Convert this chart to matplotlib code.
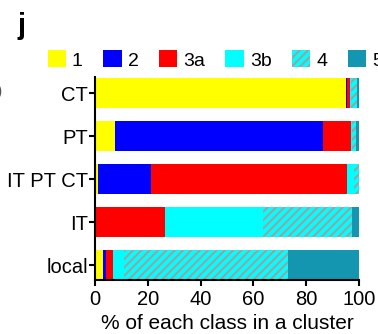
import numpy as np
import matplotlib
matplotlib.use('Agg')
import matplotlib.pyplot as plt
from matplotlib.patches import Patch

plt.rcParams['font.family'] = ['Liberation Sans', 'DejaVu Sans']
plt.rcParams['hatch.linewidth'] = 1.5

clusters = ['CT', 'PT', 'IT PT CT', 'IT', 'local']
classes = ['1', '2', '3a', '3b', '4', '5']
# % of each class per cluster
c1 = [95.0, 7.5, 0.9, 0.0, 2.9]
c2 = [0.7, 78.9, 20.3, 0.3, 1.0]
c3a = [0.9, 10.7, 74.4, 26.3, 2.8]
c3b = [0.4, 0.5, 2.7, 37.1, 4.2]
c4 = [2.2, 1.3, 1.7, 33.7, 62.2]
c5 = [0.8, 1.1, 0.0, 2.6, 26.9]

colors = ['#ffff00', '#0000ff', '#ff0000', '#00ffff', '#00ffff', '#1496b0']
hatches = [None, None, None, None, '////', None]

fig = plt.figure(figsize=(3.78, 3.34), dpi=100)
ax = fig.add_axes([0.252, 0.162, 0.697, 0.607])

ypos = np.arange(len(clusters))[::-1]
left = np.zeros(len(clusters))
handles = []
for vals, col, h, lab in zip([c1, c2, c3a, c3b, c4, c5], colors, hatches, classes):
    vals = np.array(vals)
    if h:
        ax.barh(ypos, vals, left=left, height=0.69, color=col, edgecolor='#a0a0a0',
                hatch=h, linewidth=0)
        handles.append(Patch(facecolor=col, edgecolor='#a0a0a0', hatch=h, linewidth=0, label=lab))
    else:
        ax.barh(ypos, vals, left=left, height=0.69, color=col, linewidth=0)
        handles.append(Patch(facecolor=col, linewidth=0, label=lab))
    left += vals

ax.set_xlim(0, 100)
ax.set_ylim(-0.345, 4.37)
ax.set_yticks(ypos)
ax.set_yticklabels(clusters)
ax.set_xticks([0, 20, 40, 60, 80, 100])
ax.tick_params(axis='both', labelsize=14.5, width=1.5, length=4, pad=1)
ax.tick_params(axis='x', pad=3)
ax.set_xlabel('% of each class in a cluster', fontsize=15, labelpad=4)
for s in ['top', 'right']:
    ax.spines[s].set_visible(False)
for s in ['left', 'bottom']:
    ax.spines[s].set_linewidth(1.5)

leg = ax.legend(handles=handles, ncol=6, loc='lower left', bbox_to_anchor=(-0.225, 0.98),
                frameon=False, fontsize=14, handlelength=0.95, handleheight=0.95,
                handletextpad=0.3, columnspacing=1.05, borderaxespad=0.2)

fig.text(0.045, 0.965, 'j', fontsize=21, fontweight='bold', va='top')
fig.text(-0.012, 0.725, ')', fontsize=14, color='#555555', va='center')

fig.savefig('out.png', dpi=100)
